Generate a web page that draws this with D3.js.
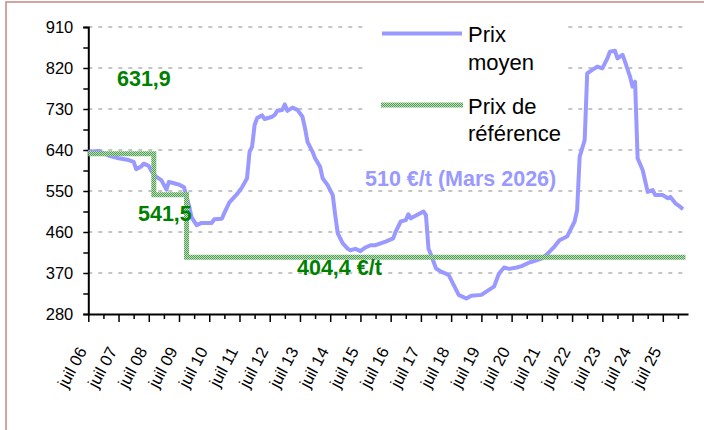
<!DOCTYPE html>
<html>
<head>
<meta charset="utf-8">
<script src="https://cdn.jsdelivr.net/npm/d3@7"></script>
<style>
  body { margin: 0; background: #fff; }
  svg { display: block; font-family: "Liberation Sans", Arial, sans-serif; }
</style>
</head>
<body>
<svg id="chart" width="704" height="430"></svg>
<script>
// Prix moyen (monthly readings, €/t)
var months = ["2006-07","2006-11","2007-03","2007-07","2007-11","2008-01","2008-02","2008-04","2008-05","2008-07",
  "2008-08","2008-10","2008-12","2009-02","2009-03","2009-05","2009-07","2009-09","2009-11","2009-12",
  "2010-02","2010-04","2010-08","2010-09","2010-12","2011-01","2011-03","2011-06","2011-08","2011-10",
  "2011-11","2011-12","2012-01","2012-02","2012-04","2012-05","2012-08","2012-09","2012-10","2012-12",
  "2013-01","2013-02","2013-04","2013-06","2013-08","2013-09","2013-10","2013-12","2014-01","2014-03",
  "2014-04","2014-06","2014-08","2014-09","2014-10","2014-12","2015-02","2015-03","2015-05","2015-07",
  "2015-09","2015-11","2016-01","2016-03","2016-05","2016-08","2016-09","2016-11","2017-01","2017-02",
  "2017-03","2017-06","2017-08","2017-09","2017-10","2017-11","2018-01","2018-03","2018-06","2018-08",
  "2018-10","2019-01","2019-03","2019-07","2019-10","2019-12","2020-02","2020-04","2020-06","2020-09",
  "2020-11","2021-02","2021-04","2021-07","2021-09","2021-12","2022-02","2022-05","2022-06","2022-08",
  "2022-09","2022-10","2022-12","2023-01","2023-03","2023-05","2023-07","2023-09","2023-10","2023-12",
  "2024-01","2024-03","2024-04","2024-06","2024-07","2024-08","2024-09","2024-11","2025-01","2025-03",
  "2025-04","2025-07","2025-09","2025-10","2025-12","2026-02","2026-03"];
var prixMoyen = [636,638,628,622,618,614,598,604,610,605,
  594,581,574,553,570,567,564,558,517,492,
  475,480,480,488,489,502,525,543,558,578,
  636,647,695,710,716,708,713,717,726,728,
  740,726,733,728,713,688,658,636,622,603,
  578,563,541,497,457,435,423,420,423,418,
  426,431,431,435,439,446,461,483,486,499,
  490,499,505,497,424,410,380,373,366,344,
  322,314,320,322,333,340,369,382,379,382,
  385,393,396,402,411,428,442,450,461,483,
  508,625,662,808,816,823,819,841,856,858,
  841,849,834,801,779,790,622,596,548,552,
  541,541,534,537,523,515,510];

// Prix de référence (step line)
var refMonths = ["2006-07","2008-09","2009-10","2026-04"];
var refValues = [631.9, 541.5, 404.4, 404.4];

var yTicks = [280, 370, 460, 550, 640, 730, 820, 910];
var xYears = ["06","07","08","09","10","11","12","13","14","15","16","17","18","19","20","21","22","23","24","25"];

var svg = d3.select("#chart");

// month index counted from juil 06
function monthIdx(s) {
  var p = s.split("-");
  return (+p[0] - 2006) * 12 + (+p[1] - 7);
}

var x = d3.scaleLinear().domain([0, 238]).range([88.3, 688]);
var y = d3.scaleLinear().domain([280, 910]).range([314, 27]);

// outer frame
svg.append("rect")
  .attr("x", 6).attr("y", 2)
  .attr("width", 760).attr("height", 480)
  .attr("fill", "none")
  .attr("stroke", "#c98585")
  .attr("stroke-width", 1.5);

// grid
svg.append("g").selectAll("line")
  .data(yTicks.filter(function(d) { return d > 280; }))
  .enter().append("line")
  .attr("x1", x(0)).attr("x2", x(238))
  .attr("y1", function(d) { return y(d); })
  .attr("y2", function(d) { return y(d); })
  .attr("stroke", "#b3b3b3")
  .attr("stroke-width", 1.5)
  .attr("stroke-dasharray", "4,6");

// texture for the reference line
var defs = svg.append("defs");
var pat = defs.append("pattern")
  .attr("id", "refTex")
  .attr("patternUnits", "userSpaceOnUse")
  .attr("width", 2).attr("height", 2);
pat.append("rect").attr("width", 2).attr("height", 2).attr("fill", "#bfe3bf");
pat.append("rect").attr("width", 1).attr("height", 1).attr("fill", "#4f9a4f");
pat.append("rect").attr("x", 1).attr("y", 1).attr("width", 1).attr("height", 1).attr("fill", "#4f9a4f");

// y axis
var yVals = d3.range(280, 911, 45);
var yAxis = svg.append("g")
  .attr("transform", "translate(" + x(0) + ",0)")
  .call(d3.axisLeft(y)
    .tickValues(yVals)
    .tickSize(5)
    .tickPadding(10)
    .tickFormat(function(d) { return yTicks.indexOf(d) >= 0 ? d : ""; }));
yAxis.select(".domain").attr("stroke", "#000").attr("stroke-width", 2);
yAxis.selectAll(".tick line").attr("stroke", "#000").attr("stroke-width", 1.5);
yAxis.selectAll(".tick text")
  .attr("font-size", 16.5)
  .attr("font-family", "Liberation Sans, Arial, sans-serif")
  .attr("fill", "#000");

// x axis
var xVals = d3.range(0, 235, 6);
var xAxis = svg.append("g")
  .attr("transform", "translate(0," + y(280) + ")")
  .call(d3.axisBottom(x).tickValues(xVals).tickSizeOuter(0).tickFormat(""));
xAxis.select(".domain").attr("stroke", "#000").attr("stroke-width", 2);
xAxis.selectAll(".tick line")
  .attr("stroke", "#000")
  .attr("stroke-width", 1.5)
  .attr("y2", function(d) { return d % 12 === 0 ? 8 : 5; });

svg.append("g").selectAll("text")
  .data(xYears)
  .enter().append("text")
  .attr("transform", function(d, i) {
    return "translate(" + (x(i * 12) - 1) + ",351) rotate(-62)";
  })
  .attr("text-anchor", "end")
  .attr("font-size", 16.5)
  .attr("fill", "#000")
  .text(function(d) { return "juil " + d; });

// prix moyen
var series = months.map(function(m, i) { return [monthIdx(m), prixMoyen[i]]; });
svg.append("path")
  .datum(series)
  .attr("fill", "none")
  .attr("stroke", "#9999ff")
  .attr("stroke-width", 4)
  .attr("stroke-linejoin", "round")
  .attr("d", d3.line()
    .x(function(d) { return x(d[0]); })
    .y(function(d) { return y(d[1]); }));

// prix de reference
var refSeries = refMonths.map(function(m, i) { return [monthIdx(m), refValues[i]]; });
svg.append("path")
  .datum(refSeries)
  .attr("fill", "none")
  .attr("stroke", "url(#refTex)")
  .attr("stroke-width", 5)
  .attr("d", d3.line()
    .curve(d3.curveStepAfter)
    .x(function(d) { return x(d[0]); })
    .y(function(d) { return y(d[1]); }));

// annotations
var notes = [
  {t: "631,9", x: 117, y: 86, c: "#008000"},
  {t: "541,5", x: 138, y: 221, c: "#008000"},
  {t: "404,4 €/t", x: 297, y: 275, c: "#008000"},
  {t: "510 €/t (Mars 2026)", x: 365, y: 186, c: "#9999ff"}
];
svg.append("g").selectAll("text")
  .data(notes)
  .enter().append("text")
  .attr("x", function(d) { return d.x; })
  .attr("y", function(d) { return d.y; })
  .attr("fill", function(d) { return d.c; })
  .attr("font-size", 21.5)
  .attr("font-weight", "bold")
  .text(function(d) { return d.t; });

// legend
var legend = svg.append("g");
legend.append("rect")
  .attr("x", 367).attr("y", 8)
  .attr("width", 197).attr("height", 147)
  .attr("fill", "#fff");
legend.append("line")
  .attr("x1", 382).attr("x2", 462)
  .attr("y1", 33.5).attr("y2", 33.5)
  .attr("stroke", "#9999ff").attr("stroke-width", 4);
legend.append("line")
  .attr("x1", 381).attr("x2", 463)
  .attr("y1", 105).attr("y2", 105)
  .attr("stroke", "url(#refTex)").attr("stroke-width", 5);
var legText = [["Prix", 42], ["moyen", 69.5], ["Prix de", 114], ["référence", 140.5]];
legend.selectAll("text.leg")
  .data(legText)
  .enter().append("text")
  .attr("class", "leg")
  .attr("x", 468)
  .attr("y", function(d) { return d[1]; })
  .attr("font-size", 22)
  .attr("fill", "#000")
  .text(function(d) { return d[0]; });
</script>
</body>
</html>
